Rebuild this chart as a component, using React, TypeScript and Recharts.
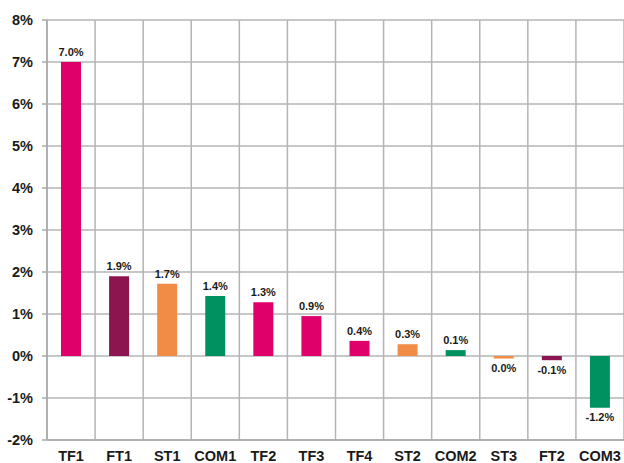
import React from 'react';
import { BarChart, Bar, XAxis, YAxis, CartesianGrid, Cell, LabelList } from 'recharts';

const categories = ['TF1', 'FT1', 'ST1', 'COM1', 'TF2', 'TF3', 'TF4', 'ST2', 'COM2', 'ST3', 'FT2', 'COM3'];
const values = [7.0, 1.9, 1.72, 1.43, 1.28, 0.95, 0.36, 0.28, 0.14, -0.06, -0.1, -1.23];
const valueLabels = ['7.0%', '1.9%', '1.7%', '1.4%', '1.3%', '0.9%', '0.4%', '0.3%', '0.1%', '0.0%', '-0.1%', '-1.2%'];
const groups = ['TF', 'FT', 'ST', 'COM', 'TF', 'TF', 'TF', 'ST', 'COM', 'ST', 'FT', 'COM'];
const yTicks = [-2, -1, 0, 1, 2, 3, 4, 5, 6, 7, 8];
const gridTicks = [0, 1, 2, 3, 4, 5, 6, 7, 8, 9, 10, 11, 12];

const groupColors: Record<string, string> = {
  TF: '#E0006A',
  FT: '#8C1550',
  ST: '#F08C46',
  COM: '#009160',
};

const data = categories.map((c, i) => ({
  name: c,
  value: values[i],
  label: valueLabels[i],
  group: groups[i],
  pos: i + 0.5,
}));

const FONT = '"Liberation Sans", Arial, sans-serif';

export default function App() {
  return (
    <div style={{ position: 'absolute', left: 0, top: 0, width: 624, height: 463, background: '#fff' }}>
      <BarChart
        width={624}
        height={463}
        data={data}
        margin={{ top: 20, right: 0, bottom: 0, left: 0 }}
        barSize={20}
      >
        <XAxis xAxisId="grid" type="number" dataKey="pos" domain={[0, 12]} ticks={gridTicks} hide />
        <CartesianGrid xAxisId="grid" stroke="#B4B4B4" strokeWidth={1.5} />
        <XAxis
          dataKey="name"
          height={23}
          axisLine={{ stroke: '#A8A8A8', strokeWidth: 1.5 }}
          tickLine={false}
          tickSize={6}
          tickMargin={5}
          interval={0}
          tick={{ fill: '#1a1a1a', fontSize: 14.5, fontWeight: 'bold', fontFamily: FONT }}
        />
        <YAxis
          width={47}
          domain={[-2, 8]}
          ticks={yTicks}
          interval={0}
          tickFormatter={(v: number) => `${v}%`}
          axisLine={{ stroke: '#A8A8A8', strokeWidth: 1.5 }}
          tickLine={{ stroke: '#A8A8A8', strokeWidth: 1.5 }}
          tickSize={5}
          tickMargin={9}
          tick={{ fill: '#1a1a1a', fontSize: 14.5, fontWeight: 'bold', fontFamily: FONT }}
        />
        <Bar dataKey="value" isAnimationActive={false}>
          {data.map((d, i) => (
            <Cell key={i} fill={groupColors[d.group]} />
          ))}
          <LabelList
            dataKey="label"
            position="top"
            offset={6}
            style={{ fill: '#1a1a1a', fontSize: 11, fontWeight: 'bold', fontFamily: FONT }}
          />
        </Bar>
      </BarChart>
    </div>
  );
}
